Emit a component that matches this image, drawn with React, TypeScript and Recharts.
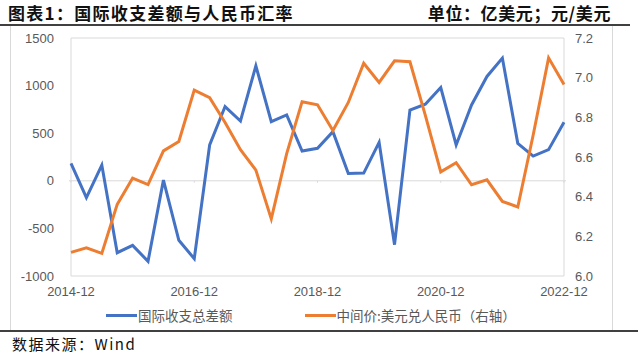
import React from "react";
import {
  LineChart,
  Line,
  XAxis,
  YAxis,
  ReferenceLine,
  ReferenceArea
} from "recharts";

const quarters = [
  "2014-12", "2015-03", "2015-06", "2015-09", "2015-12", "2016-03", "2016-06", "2016-09",
  "2016-12", "2017-03", "2017-06", "2017-09", "2017-12", "2018-03", "2018-06", "2018-09",
  "2018-12", "2019-03", "2019-06", "2019-09", "2019-12", "2020-03", "2020-06", "2020-09",
  "2020-12", "2021-03", "2021-06", "2021-09", "2021-12", "2022-03", "2022-06", "2022-09",
  "2022-12"
];

// 国际收支总差额, 亿美元
const balance = [
  183, -176, 165, -755, -678, -846, 7, -625,
  -818, 376, 780, 628, 1208, 621, 692, 312,
  342, 516, 77, 81, 404, -671, 744, 804,
  980, 376, 797, 1096, 1289, 393, 260, 327,
  614
];

// 中间价:美元兑人民币
const rate = [
  6.119, 6.142, 6.114, 6.361, 6.494, 6.461, 6.631, 6.678,
  6.937, 6.899, 6.774, 6.637, 6.534, 6.288, 6.617, 6.879,
  6.863, 6.734, 6.875, 7.073, 6.976, 7.085, 7.080, 6.810,
  6.525, 6.571, 6.460, 6.485, 6.376, 6.348, 6.711, 7.100,
  6.965
];

const xTicks = ["2014-12", "2016-12", "2018-12", "2020-12", "2022-12"];
const leftTicks = [-1000, -500, 0, 500, 1000, 1500];
const rightTicks = [6.0, 6.2, 6.4, 6.6, 6.8, 7.0, 7.2];

const BLUE = "#4472C4";
const ORANGE = "#ED7D31";
const GRID = "#D9D9D9";
const TEXT = "#595959";

const data = quarters.map((q, i) => ({ q, balance: balance[i], rate: rate[i] }));

const tickStyle = { fill: TEXT, fontSize: 13, fontFamily: "'Liberation Sans', Arial, sans-serif" };

function LegendItem({ color, label }: { color: string; label: string }) {
  return (
    <div style={{ display: "flex", alignItems: "center" }}>
      <span style={{ display: "inline-block", width: 31, height: 3, background: color, marginRight: 1 }} />
      <span style={{ color: TEXT, fontSize: 13.5 }}>{label}</span>
    </div>
  );
}

export default function App() {
  return (
    <div
      style={{
        position: "absolute",
        left: 0,
        top: 0,
        width: 640,
        height: 356,
        background: "#fff",
        fontFamily: "'Noto Sans CJK SC', sans-serif",
        overflow: "hidden"
      }}
    >
      <div style={{ position: "absolute", left: 8, top: 0, fontSize: 17, fontWeight: 700, color: "#111", letterSpacing: 1.3 }}>
        图表1：国际收支差额与人民币汇率
      </div>
      <div style={{ position: "absolute", right: 29, top: 0, fontSize: 17, fontWeight: 700, color: "#111", letterSpacing: 0.6 }}>
        单位：亿美元；元/美元
      </div>
      <div style={{ position: "absolute", left: 0, top: 24, width: 630, height: 2, background: "#404040" }} />
      <div style={{ position: "absolute", left: 10, top: 26, width: 601, height: 304, borderLeft: `1px solid ${GRID}`, borderRight: `1px solid ${GRID}` }} />
      <div style={{ position: "absolute", left: 0, top: 330, width: 638, height: 2, background: "#404040" }} />
      <div style={{ position: "absolute", left: 12, top: 333, fontSize: 15, color: "#111", letterSpacing: 1.5 }}>
        数据来源：Wind
      </div>

      <div style={{ position: "absolute", left: 0, top: 0 }}>
        <LineChart width={640} height={356} data={data} margin={{ top: 38, right: 24, left: 19, bottom: 50 }}>
          <XAxis
            dataKey="q"
            ticks={xTicks}
            interval={0}
            axisLine={false}
            tickLine={false}
            tickSize={0}
            tickMargin={11}
            height={30}
            padding={{ left: 2, right: 2 }}
            tick={tickStyle}
          />
          <YAxis
            yAxisId="left"
            domain={[-1000, 1500]}
            ticks={leftTicks}
            axisLine={false}
            tickLine={false}
            tickSize={0}
            tickMargin={15}
            width={50}
            tick={tickStyle}
          />
          <YAxis
            yAxisId="right"
            orientation="right"
            domain={[6.0, 7.2]}
            ticks={rightTicks}
            tickFormatter={(v: number) => v.toFixed(1)}
            axisLine={false}
            tickLine={false}
            tickSize={0}
            tickMargin={9}
            width={50}
            tick={tickStyle}
          />
          <ReferenceArea
            yAxisId="left"
            y1={-1000}
            y2={1500}
            fill="none"
            stroke={GRID}
            strokeWidth={1}
          />
          <ReferenceLine yAxisId="left" y={0} stroke={GRID} strokeWidth={1} />
          {xTicks.map((t) => (
            <ReferenceLine
              key={t}
              yAxisId="left"
              segment={[{ x: t, y: 0 }, { x: t, y: -20 }]}
              stroke={GRID}
              strokeWidth={1}
            />
          ))}
          <Line
            yAxisId="left"
            type="linear"
            dataKey="balance"
            stroke={BLUE}
            strokeWidth={3}
            dot={false}
            isAnimationActive={false}
          />
          <Line
            yAxisId="right"
            type="linear"
            dataKey="rate"
            stroke={ORANGE}
            strokeWidth={3}
            dot={false}
            isAnimationActive={false}
          />
        </LineChart>
      </div>

      <div style={{ position: "absolute", left: 106, top: 305, display: "flex", gap: 72 }}>
        <LegendItem color={BLUE} label="国际收支总差额" />
        <LegendItem color={ORANGE} label="中间价:美元兑人民币（右轴）" />
      </div>
    </div>
  );
}
